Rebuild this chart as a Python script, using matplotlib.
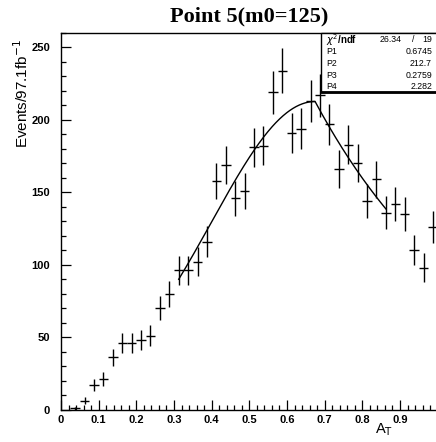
import numpy as np
import matplotlib
matplotlib.use("Agg")
import matplotlib.pyplot as plt
from matplotlib.patches import Rectangle
from matplotlib.ticker import MultipleLocator, FixedFormatter, FixedLocator

# ---- data ----
bin_centers = [0.0125, 0.0375, 0.0625, 0.0875, 0.1125, 0.1375, 0.1625, 0.1875,
               0.2125, 0.2375, 0.2625, 0.2875, 0.3125, 0.3375, 0.3625, 0.3875,
               0.4125, 0.4375, 0.4625, 0.4875, 0.5125, 0.5375, 0.5625, 0.5875,
               0.6125, 0.6375, 0.6625, 0.6875, 0.7125, 0.7375, 0.7625, 0.7875,
               0.8125, 0.8375, 0.8625, 0.8875, 0.9125, 0.9375, 0.9625, 0.9875]
counts = [0, 1, 6, 17, 21, 36, 46, 46, 48, 51, 70, 80, 96, 96, 102, 116,
          158, 169, 146, 151, 181, 182, 219, 234, 191, 194, 213, 217, 197, 166,
          183, 170, 144, 159, 136, 142, 135, 110, 98, 126]
bin_halfwidth = 0.0125

# fit parameters (from stats box)
chi2, ndf = 26.34, 19
P1, P2, P3, P4 = 0.6745, 212.7, 0.2759, 2.282
fit_range = (0.3125, 0.8625)

xticks = [0, 0.1, 0.2, 0.3, 0.4, 0.5, 0.6, 0.7, 0.8, 0.9]
xtick_labels = ["0", "0.1", "0.2", "0.3", "0.4", "0.5", "0.6", "0.7", "0.8", "0.9"]
yticks = [0, 50, 100, 150, 200, 250]
ytick_labels = ["0", "50", "100", "150", "200", "250"]

# ---- figure ----
W, H = 436, 442
fig = plt.figure(figsize=(W / 100, H / 100), dpi=100)
ax = fig.add_axes([61 / W, 32.5 / H, 376.7 / W, 376.5 / H])

x = np.array(bin_centers)
y = np.array(counts, dtype=float)
mask = y > 0
ax.errorbar(x[mask], y[mask], yerr=np.sqrt(y[mask]), xerr=bin_halfwidth,
            fmt='none', ecolor='black', elinewidth=1.0, capsize=0)

xf = np.linspace(fit_range[0], fit_range[1], 400)
yf = np.where(xf < P1, P2 * np.exp(-(xf - P1) ** 2 / (2 * P3 ** 2)),
              P2 * np.exp(-P4 * (xf - P1)))
ax.plot(xf, yf, color='black', lw=1.0)

ax.set_xlim(0, 1)
ax.set_ylim(0, 260)

sans = ['Liberation Sans', 'DejaVu Sans']
ax.xaxis.set_major_locator(FixedLocator(xticks))
ax.xaxis.set_major_formatter(FixedFormatter(xtick_labels))
ax.xaxis.set_minor_locator(MultipleLocator(0.02))
ax.yaxis.set_major_locator(FixedLocator(yticks))
ax.yaxis.set_major_formatter(FixedFormatter(ytick_labels))
ax.yaxis.set_minor_locator(MultipleLocator(10))
ax.tick_params(which='both', direction='in', top=False, right=False, width=0.9, color='black')
ax.tick_params(which='major', length=7)
ax.tick_params(which='minor', length=3.5)
ax.tick_params(axis='y', which='major', pad=8)
ax.tick_params(axis='x', which='major', pad=4)
for lab in ax.get_xticklabels() + ax.get_yticklabels():
    lab.set_fontfamily(sans)
    lab.set_fontweight('bold')
    lab.set_fontsize(8)
for s in ax.spines.values():
    s.set_linewidth(1.0)

fig.text(249 / W, 1 - 16 / H, "Point 5(m0=125)", ha='center', va='center',
         family=['Liberation Serif', 'DejaVu Serif'], fontweight='bold', fontsize=16)

fig.text(22 / W, 1 - 39 / H, r"Events/97.1fb$^{-1}$", rotation=90, ha='center', va='top',
         family=sans, fontsize=11)
fig.text(393 / W, 1 - 433 / H, r"A$_{\mathrm{T}}$", ha='right', va='baseline',
         family=sans, fontsize=10.5)

# stats box
bx0, by0, by1 = 320.7 / W, 1 - 91.7 / H, 1 - 33 / H
fig.patches.append(Rectangle((bx0, by0), 1.01 - bx0, by1 - by0, transform=fig.transFigure,
                             facecolor='white', edgecolor='black', lw=1.0, zorder=5))
fig.lines.append(plt.Line2D([bx0, 1.0], [by0, by0], transform=fig.transFigure,
                            color='black', lw=2.0, zorder=6))
rows_y = [40, 51.7, 63.3, 75, 86.7]
fs = 6.3
fig.text(326 / W, 1 - rows_y[0] / H, r"$\chi^2$/ndf", ha='left', va='center',
         family=sans, fontsize=fs + 0.7, fontweight='bold', zorder=7)
fig.text(402 / W, 1 - rows_y[0] / H, f"{chi2:.2f}", ha='right', va='center',
         family=sans, fontsize=fs, zorder=7)
fig.text(413 / W, 1 - rows_y[0] / H, "/", ha='center', va='center',
         family=sans, fontsize=fs, zorder=7)
fig.text(432 / W, 1 - rows_y[0] / H, f"{ndf}", ha='right', va='center',
         family=sans, fontsize=fs, zorder=7)
for i, (name, val) in enumerate([("P1", "0.6745"), ("P2", "212.7"),
                                 ("P3", "0.2759"), ("P4", "2.282")]):
    fig.text(326 / W, 1 - rows_y[i + 1] / H, name, ha='left', va='center',
             family=sans, fontsize=fs, zorder=7)
    fig.text(432 / W, 1 - rows_y[i + 1] / H, val, ha='right', va='center',
             family=sans, fontsize=fs, zorder=7)

fig.savefig("out.png", dpi=100)
